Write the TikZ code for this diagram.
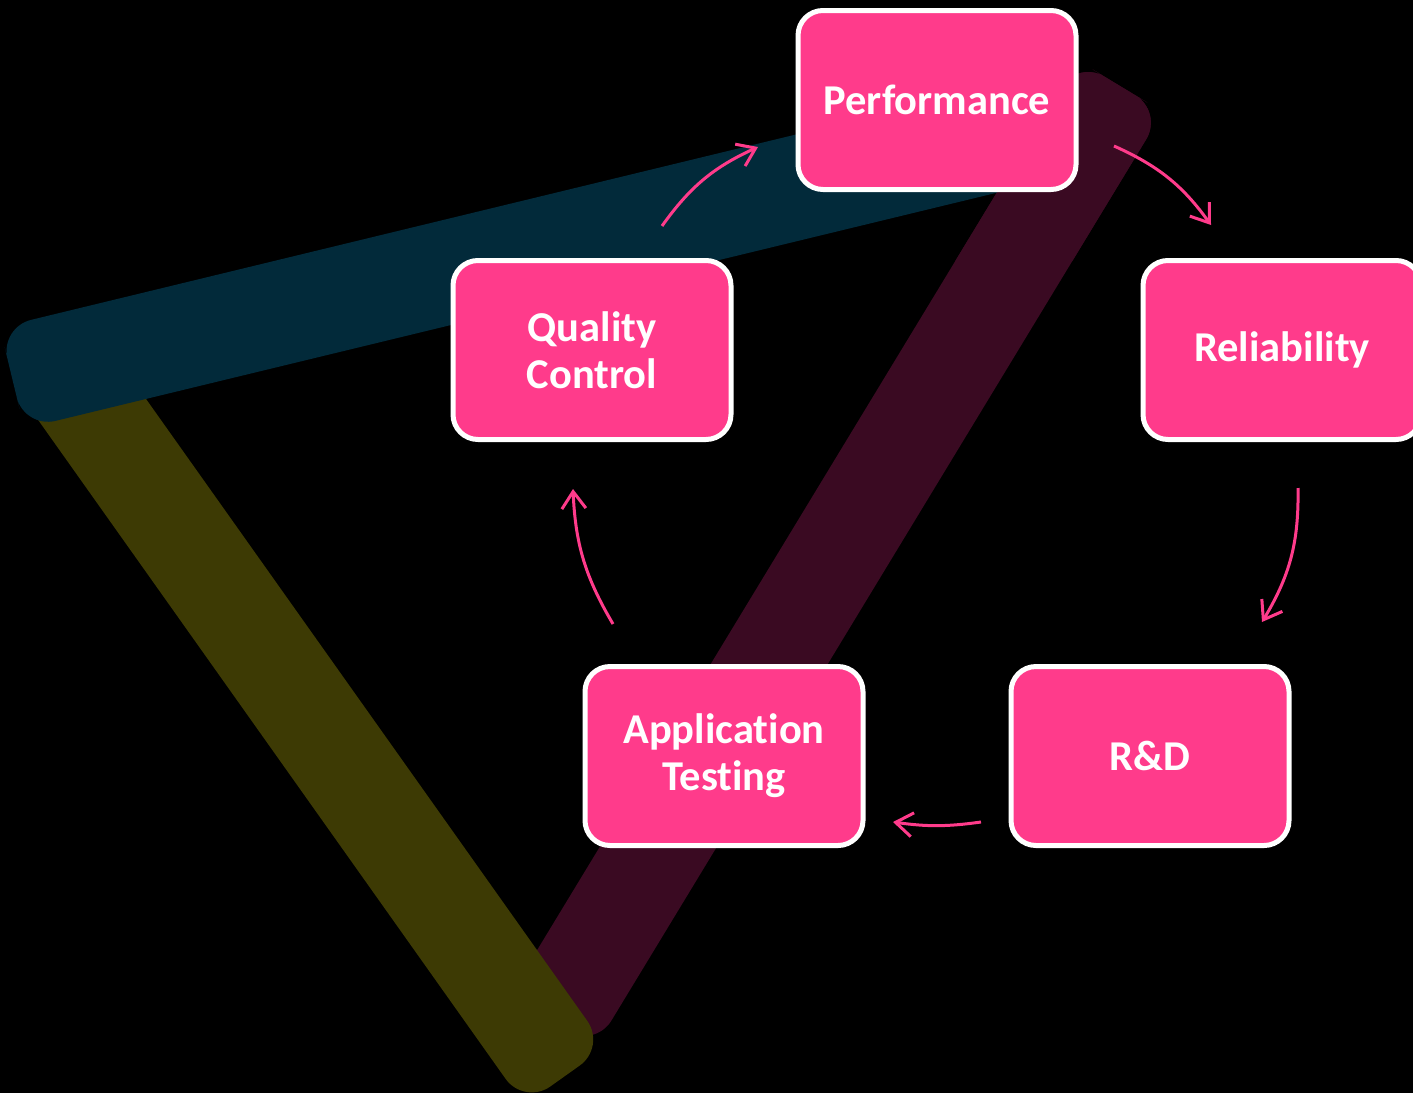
\documentclass[tikz,border=0pt]{standalone}
\usepackage{fontspec}
\setmainfont{Carlito}[Ligatures=NoCommon]
\usetikzlibrary{arrows.meta}
\definecolor{pinkbox}{HTML}{FF3B8B}
\definecolor{barblue}{HTML}{022A3A}
\definecolor{baryellow}{HTML}{3D3A04}
\definecolor{barpurple}{HTML}{3A0A22}
\tikzset{
  stagebox/.style={draw=white, line width=5pt, fill=pinkbox, rounded corners=25pt,
    minimum width=278pt, minimum height=179pt, align=center, text=white,
    font=\fontsize{42.5}{47}\selectfont\bfseries},
  cyclearrow/.style={draw=pinkbox, line width=3pt,
    -{Straight Barb[length=17pt,width=24pt,line width=3pt]}},
  barshape/.style={rounded corners=32pt}
}
\begin{document}
\begin{tikzpicture}[x=1pt,y=-1pt]
\fill[black] (0,0) rectangle (1413,1093);
\useasboundingbox (0,0) rectangle (1413,1093);
\clip (0,0) rectangle (1413,1093);
% purple bar
\fill[barpurple, barshape] (1120,86) -- (1162.8,111.9) -- (594.8,1047.9) -- (509.2,996.1) -- (1077.2,60.1) -- cycle;
% yellow bar
\fill[baryellow, barshape] (57,360) -- (97.8,331) -- (605.8,1047) -- (524.2,1105) -- (16.2,389) -- cycle;
% blue bar
\fill[barblue, barshape] (12,378) -- (24.4,428.4) -- (1109.2,165.5) -- (1084.8,64.5) -- (0,327.4) -- cycle;
% purple over blue at top right
\begin{scope}
\clip (900,0) rectangle (1413,260);
\fill[barpurple, barshape] (1120,86) -- (1162.8,111.9) -- (594.8,1047.9) -- (509.2,996.1) -- (1077.2,60.1) -- cycle;
\end{scope}
% boxes
\node[stagebox] (perf) at (937,100) {Performance};
\node[stagebox] (qc) at (592,350) {Quality\\Control};
\node[stagebox] (rel) at (1282,350) {Reliability};
\node[stagebox] (at) at (724,756) {Application\\Testing};
\node[stagebox] (rd) at (1150,756) {R\&D};
% arrow end points
\coordinate (a1s) at (662,226);
\coordinate (a1e) at (758,147);
\coordinate (a2s) at (1114,146);
\coordinate (a2e) at (1211,225);
\coordinate (a3s) at (1298,488);
\coordinate (a3e) at (1262,622);
\coordinate (a4s) at (981,822);
\coordinate (a4e) at (893,822);
\coordinate (a5s) at (613,624);
\coordinate (a5e) at (573,489);
\draw[cyclearrow] (a1s) to[bend left=15] (a1e);
\draw[cyclearrow] (a2s) to[bend left=15] (a2e);
\draw[cyclearrow] (a3s) to[bend left=16] (a3e);
\draw[cyclearrow] (a4s) to[bend left=8] (a4e);
\draw[cyclearrow] (a5s) to[bend left=14] (a5e);
\end{tikzpicture}
\end{document}
